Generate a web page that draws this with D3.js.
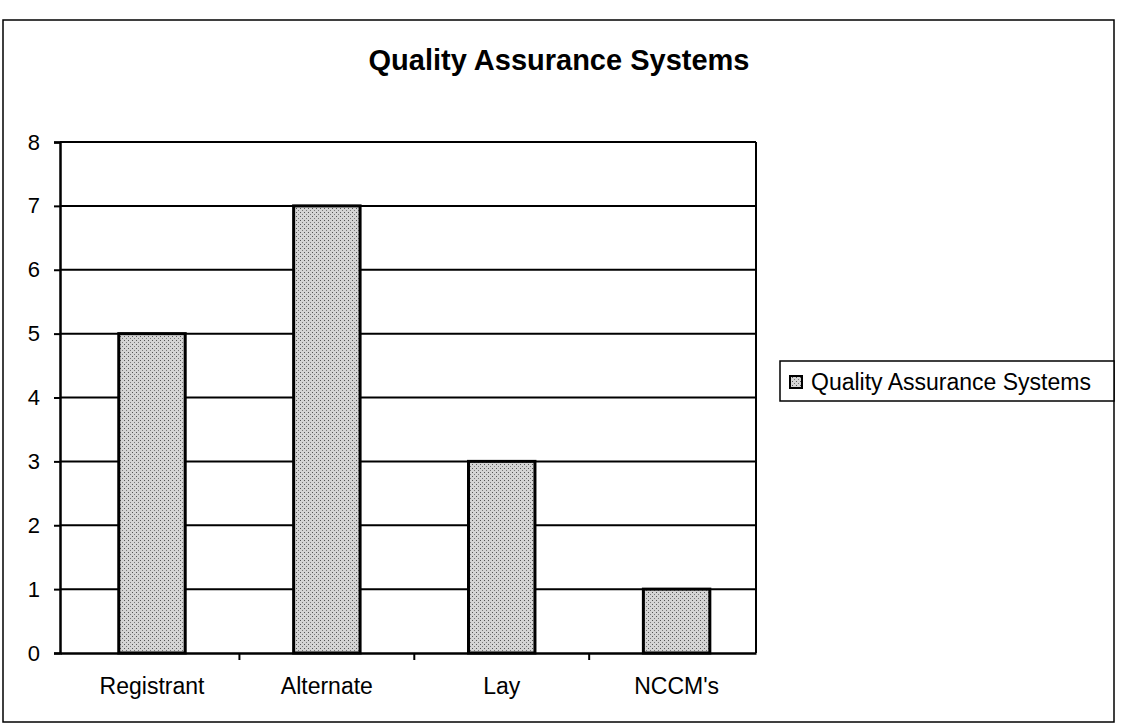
<!DOCTYPE html>
<html>
<head>
<meta charset="utf-8">
<script src="https://cdn.jsdelivr.net/npm/d3@7"></script>
<style>
  body { margin: 0; background: #fff; }
  svg { font-family: "Liberation Sans", Arial, sans-serif; }
</style>
</head>
<body>
<svg id="chart" width="1122" height="725"></svg>
<script>
// data
const categories = ["Registrant", "Alternate", "Lay", "NCCM's"];
const values = [5, 7, 3, 1];
const yTicks = [0, 1, 2, 3, 4, 5, 6, 7, 8];
const seriesName = "Quality Assurance Systems";
const chartTitle = "Quality Assurance Systems";

const plot = { left: 60, right: 756, top: 142, bottom: 653 };

const svg = d3.select("#chart");

// dotted fill like the scanned bars
const defs = svg.append("defs");
const pat = defs.append("pattern")
  .attr("id", "stipple")
  .attr("patternUnits", "userSpaceOnUse")
  .attr("width", 4).attr("height", 4);
pat.append("rect").attr("width", 4).attr("height", 4).attr("fill", "#d4d4d4");
pat.append("rect").attr("x", 0).attr("y", 0).attr("width", 1).attr("height", 1).attr("fill", "#555");
pat.append("rect").attr("x", 2).attr("y", 2).attr("width", 1).attr("height", 1).attr("fill", "#777");

// outer frame
svg.append("rect")
  .attr("x", 3).attr("y", 20)
  .attr("width", 1111).attr("height", 702)
  .attr("fill", "none").attr("stroke", "#000").attr("stroke-width", 1.5);

svg.append("text")
  .attr("x", 559).attr("y", 70)
  .attr("text-anchor", "middle")
  .attr("font-size", 29).attr("font-weight", "bold")
  .text(chartTitle);

const x = d3.scaleBand()
  .domain(categories)
  .range([plot.left, plot.right])
  .paddingInner(0.62)
  .paddingOuter(0.3)
  .align(0.56);

const y = d3.scaleLinear()
  .domain([0, 8])
  .range([plot.bottom, plot.top]);

// gridlines
svg.append("g")
  .selectAll("line")
  .data(yTicks.filter(d => d > 0))
  .join("line")
  .attr("x1", plot.left).attr("x2", plot.right)
  .attr("y1", d => y(d)).attr("y2", d => y(d))
  .attr("stroke", "#000").attr("stroke-width", 2);

// right border of plot area
svg.append("line")
  .attr("x1", plot.right).attr("x2", plot.right)
  .attr("y1", plot.top).attr("y2", plot.bottom)
  .attr("stroke", "#000").attr("stroke-width", 2);

// bars
svg.append("g")
  .selectAll("rect")
  .data(values)
  .join("rect")
  .attr("x", (d, i) => x(categories[i]))
  .attr("y", d => y(d))
  .attr("width", x.bandwidth())
  .attr("height", d => y(0) - y(d))
  .attr("fill", "url(#stipple)")
  .attr("stroke", "#000").attr("stroke-width", 3);

// y axis
const yAxis = svg.append("g")
  .attr("transform", `translate(${plot.left},0)`)
  .call(d3.axisLeft(y).tickValues(yTicks).tickFormat(d3.format("d")).tickSize(6).tickPadding(14));
yAxis.select(".domain").attr("stroke-width", 2.5);
yAxis.selectAll(".tick line").attr("stroke-width", 2);
yAxis.selectAll("text").attr("font-size", 22).attr("fill", "#000");

// x axis, ticks between categories like Excel
const xAxis = svg.append("g")
  .attr("transform", `translate(0,${plot.bottom})`)
  .call(d3.axisBottom(x).tickSize(0).tickPadding(25));
xAxis.select(".domain").attr("stroke-width", 2.5);
xAxis.selectAll("text").attr("font-size", 23).attr("fill", "#000");
xAxis.selectAll(".divider")
  .data(categories.slice(1))
  .join("line")
  .attr("class", "divider")
  .attr("x1", d => x(d) - x.step() * x.paddingInner() / 2)
  .attr("x2", d => x(d) - x.step() * x.paddingInner() / 2)
  .attr("y1", 0).attr("y2", 7)
  .attr("stroke", "#000").attr("stroke-width", 2);

// legend
const legend = svg.append("g").attr("transform", "translate(780,361)");
legend.append("rect")
  .attr("width", 334).attr("height", 40)
  .attr("fill", "#fff").attr("stroke", "#000").attr("stroke-width", 1.5);
legend.append("rect")
  .attr("x", 10).attr("y", 15).attr("width", 12).attr("height", 12)
  .attr("fill", "url(#stipple)").attr("stroke", "#000").attr("stroke-width", 2);
legend.append("text")
  .attr("x", 31).attr("y", 29)
  .attr("font-size", 23)
  .text(seriesName);
</script>
</body>
</html>
